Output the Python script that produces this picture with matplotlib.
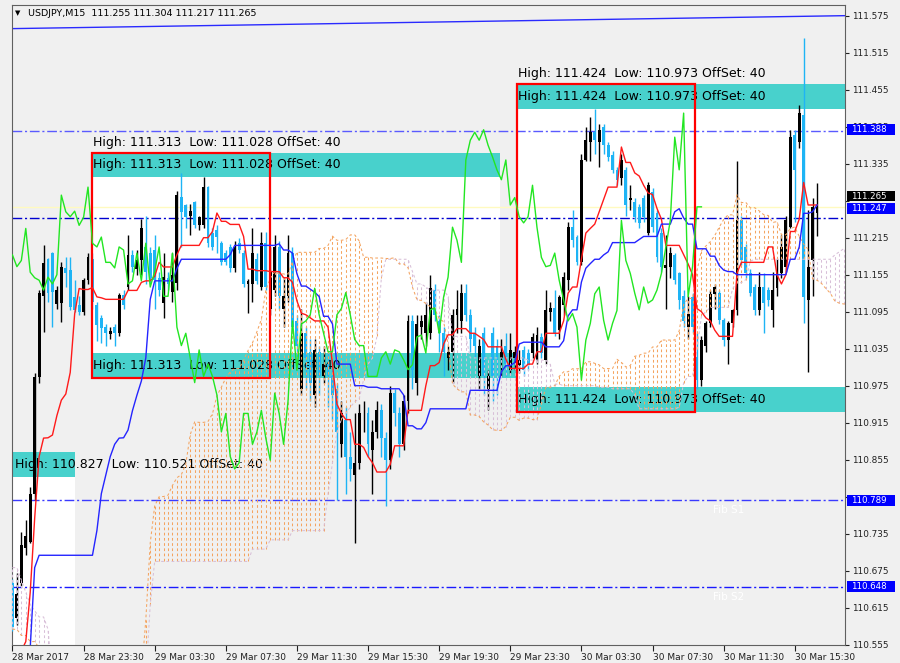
import matplotlib
matplotlib.use("Agg")
import matplotlib.pyplot as plt
from matplotlib.patches import Rectangle
import numpy as np

plt.rcParams['font.family'] = ['DejaVu Sans']

# ---- USDJPY M15 bars (bar 0 = 28 Mar 19:30) ----
opens = [
    110.655, 110.599, 110.655, 110.712, 110.722, 110.800, 110.989, 111.120, 111.180, 111.190,
    111.108, 111.109, 111.166, 111.163, 111.119, 111.106, 111.094, 111.146, 111.180, 111.106,
    111.085, 111.070, 111.058, 111.070, 111.060, 111.122, 111.135, 111.187, 111.165, 111.178,
    111.200, 111.190, 111.195, 111.150, 111.109, 111.150, 111.127, 111.141, 111.281, 111.268,
    111.250, 111.273, 111.235, 111.235, 111.297, 111.222, 111.228, 111.206, 111.190, 111.200,
    111.166, 111.206, 111.190, 111.140, 111.140, 111.180, 111.135, 111.206, 111.100, 111.130,
    111.200, 111.100, 111.120, 111.190, 111.080, 110.970, 111.060, 111.030, 110.960, 111.030,
    110.990, 111.010, 110.990, 110.970, 110.880, 110.920, 110.860, 110.830, 110.850, 110.930,
    110.930, 110.870, 110.900, 110.935, 110.890, 110.854, 110.963, 110.930, 110.880, 110.950,
    111.080, 110.980, 111.070, 111.060, 111.060, 111.130, 111.080, 111.060, 111.020, 111.030,
    111.090, 111.080, 111.126, 111.090, 111.060, 110.990, 111.060, 110.970, 111.060, 111.040,
    111.020, 111.040, 111.001, 111.020, 111.009, 111.033, 111.028, 111.028, 111.017, 111.054,
    111.017, 111.094, 111.101, 111.065, 111.106, 111.146, 111.232, 111.216, 111.175, 111.341,
    111.370, 111.386, 111.370, 111.394, 111.365, 111.349, 111.325, 111.312, 111.325, 111.276,
    111.273, 111.265, 111.280, 111.222, 111.289, 111.255, 111.222, 111.166, 111.168, 111.187,
    111.157, 111.120, 111.070, 111.118, 111.021, 110.984, 111.040, 111.076, 111.124, 111.125,
    111.081, 111.049, 111.076, 111.097, 111.243, 111.200, 111.157, 111.135, 111.098, 111.135,
    111.130, 111.098, 111.133, 111.157, 111.168, 111.232, 111.381, 111.370, 111.414, 111.114,
    111.179, 111.255]
highs = [
    110.662, 110.671, 110.737, 110.757, 110.810, 110.995, 111.130, 111.203, 111.182, 111.192,
    111.137, 111.175, 111.183, 111.183, 111.146, 111.120, 111.150, 111.190, 111.190, 111.110,
    111.090, 111.075, 111.070, 111.075, 111.125, 111.130, 111.219, 111.195, 111.195, 111.245,
    111.250, 111.200, 111.220, 111.160, 111.190, 111.160, 111.190, 111.290, 111.320, 111.270,
    111.270, 111.275, 111.250, 111.313, 111.299, 111.230, 111.235, 111.210, 111.195, 111.205,
    111.210, 111.215, 111.195, 111.148, 111.230, 111.190, 111.225, 111.225, 111.200, 111.220,
    111.210, 111.150, 111.220, 111.200, 111.090, 111.100, 111.070, 111.050, 111.050, 111.040,
    111.040, 111.030, 111.000, 110.980, 110.950, 110.940, 110.900, 110.930, 110.945, 110.950,
    110.940, 110.920, 110.950, 110.945, 110.900, 110.975, 110.970, 110.940, 110.960, 111.090,
    111.090, 111.090, 111.090, 111.110, 111.155, 111.140, 111.090, 111.070, 111.040, 111.100,
    111.130, 111.140, 111.140, 111.100, 111.070, 111.050, 111.070, 111.000, 111.070, 111.050,
    111.050, 111.060, 111.060, 111.040, 111.033, 111.040, 111.035, 111.060, 111.070, 111.060,
    111.130, 111.110, 111.130, 111.122, 111.160, 111.240, 111.260, 111.220, 111.350, 111.395,
    111.410, 111.424, 111.400, 111.400, 111.370, 111.355, 111.330, 111.350, 111.330, 111.300,
    111.280, 111.270, 111.285, 111.305, 111.295, 111.260, 111.230, 111.220, 111.200, 111.190,
    111.160, 111.130, 111.120, 111.125, 111.060, 111.055, 111.080, 111.130, 111.140, 111.130,
    111.085, 111.080, 111.100, 111.340, 111.250, 111.205, 111.165, 111.140, 111.160, 111.157,
    111.135, 111.160, 111.180, 111.220, 111.250, 111.390, 111.390, 111.430, 111.539, 111.260,
    111.280, 111.304]
lows = [
    110.578, 110.587, 110.650, 110.700, 110.720, 110.790, 110.980, 111.062, 111.110, 111.070,
    111.100, 111.078, 111.135, 111.097, 111.095, 111.090, 111.090, 111.140, 111.100, 111.048,
    111.045, 111.040, 111.050, 111.040, 111.055, 111.100, 111.130, 111.160, 111.155, 111.155,
    111.140, 111.140, 111.100, 111.120, 111.085, 111.130, 111.110, 111.130, 111.200, 111.230,
    111.220, 111.230, 111.228, 111.230, 111.200, 111.195, 111.190, 111.170, 111.170, 111.160,
    111.160, 111.190, 111.135, 111.093, 111.110, 111.140, 111.130, 111.130, 111.090, 111.120,
    111.100, 111.070, 111.110, 111.060, 111.000, 110.960, 110.970, 110.950, 110.940, 110.960,
    110.980, 110.940, 110.920, 110.790, 110.860, 110.800, 110.820, 110.720, 110.840, 110.900,
    110.860, 110.800, 110.890, 110.860, 110.780, 110.840, 110.910, 110.860, 110.870, 110.930,
    110.970, 110.960, 111.050, 111.040, 111.050, 111.080, 111.030, 110.990, 111.000, 110.980,
    111.060, 111.060, 111.080, 111.030, 111.020, 110.970, 110.960, 110.936, 110.950, 110.960,
    110.990, 110.990, 110.995, 111.000, 110.996, 110.990, 111.000, 111.020, 111.010, 111.020,
    111.010, 111.080, 111.055, 111.050, 111.090, 111.130, 111.200, 111.170, 111.170, 111.340,
    111.340, 111.350, 111.330, 111.350, 111.340, 111.320, 111.300, 111.300, 111.250, 111.260,
    111.240, 111.230, 111.240, 111.220, 111.225, 111.175, 111.160, 111.100, 111.150, 111.140,
    111.100, 111.070, 111.050, 111.060, 110.970, 110.975, 111.030, 111.070, 111.100, 111.075,
    111.040, 111.010, 111.070, 111.090, 111.170, 111.150, 111.120, 111.090, 111.090, 111.060,
    111.105, 111.070, 111.120, 111.150, 111.160, 111.230, 111.240, 111.360, 111.077, 110.997,
    111.120, 111.217]
closes = [
    110.583, 110.638, 110.716, 110.731, 110.800, 110.989, 111.125, 111.174, 111.125, 111.127,
    111.130, 111.168, 111.158, 111.103, 111.098, 111.094, 111.146, 111.183, 111.110, 111.074,
    111.069, 111.060, 111.064, 111.060, 111.122, 111.106, 111.187, 111.168, 111.178, 111.230,
    111.159, 111.150, 111.146, 111.130, 111.151, 111.140, 111.155, 111.284, 111.257, 111.249,
    111.258, 111.235, 111.248, 111.297, 111.206, 111.200, 111.216, 111.175, 111.175, 111.166,
    111.200, 111.195, 111.140, 111.145, 111.190, 111.145, 111.206, 111.135, 111.160, 111.200,
    111.120, 111.120, 111.190, 111.070, 111.040, 111.060, 111.020, 110.980, 111.033, 110.990,
    111.010, 110.990, 110.960, 110.900, 110.930, 110.860, 110.840, 110.850, 110.930, 110.930,
    110.880, 110.900, 110.935, 110.890, 110.854, 110.963, 110.930, 110.880, 110.950, 111.080,
    111.000, 111.075, 111.080, 111.090, 111.133, 111.090, 111.060, 111.030, 111.030, 111.090,
    111.100, 111.126, 111.090, 111.050, 111.040, 111.040, 110.990, 110.990, 110.990, 111.020,
    111.030, 111.010, 111.033, 111.030, 111.017, 111.001, 111.009, 111.054, 111.057, 111.028,
    111.098, 111.101, 111.060, 111.119, 111.151, 111.232, 111.211, 111.175, 111.341, 111.373,
    111.386, 111.373, 111.390, 111.365, 111.346, 111.325, 111.309, 111.341, 111.268, 111.280,
    111.249, 111.239, 111.249, 111.300, 111.232, 111.183, 111.168, 111.170, 111.190, 111.146,
    111.114, 111.080, 111.092, 111.070, 110.984, 111.049, 111.076, 111.124, 111.135, 111.081,
    111.049, 111.076, 111.097, 111.243, 111.178, 111.157, 111.125, 111.098, 111.135, 111.109,
    111.114, 111.130, 111.157, 111.200, 111.243, 111.378, 111.325, 111.417, 111.119, 111.168,
    111.265, 111.265]

# Ichimoku values at the left edge, where the look-back window runs off the chart
tenkan_head = [110.50, 110.52, 110.545, 110.56, 110.64, 110.76, 110.86, 110.89]
kijun_head = [110.45] * 4 + [110.55, 110.68] + [110.70] * 13 + [110.74, 110.80, 110.83, 110.86, 110.88, 110.89]
span_a_head = [110.58, 110.58, 110.57, 110.57, 110.56, 110.56, 110.55, 110.55, 110.54] + [110.50] * 17
span_b_head = ([110.68, 110.68, 110.66, 110.64, 110.62, 110.61, 110.60, 110.60, 110.58] + [110.50] * 22
               + [110.62] + [110.69] * 22 + [110.71] * 4 + [110.725] * 5 + [110.74] * 8
               + [110.80, 110.85, 110.90, 110.92, 110.93, 110.94])

# price levels / objects
trend_x = [-0.1, 187.3]
trend_y = [111.554, 111.575]
hlines = [111.388, 111.247, 110.789, 110.648]
hline_colors = ['#5a5aff', '#0000d0', '#3a3aff', '#1a1aff']
bid = closes[-1]
fib_labels = [('Fib S1', 110.789), ('Fib S2', 110.648)]
# zones: high, low, offset, start bar, end bar (top band / body), end bar (bottom band), box bars
zones = [
    (111.313, 111.028, 0.040, 17.9, 109.7, 113.5, 40),
    (111.424, 110.973, 0.040, 113.5, 195.0, 195.0, 40),
    (110.827, 110.521, 0.040, -5.0, 14.06, 14.06, 0),
]
tick_bars = [0, 16, 32, 48, 64, 80, 96, 112, 128, 144, 160, 176]
tick_labels = ['28 Mar 2017', '28 Mar 23:30', '29 Mar 03:30', '29 Mar 07:30', '29 Mar 11:30',
               '29 Mar 15:30', '29 Mar 19:30', '29 Mar 23:30', '30 Mar 03:30', '30 Mar 07:30',
               '30 Mar 11:30', '30 Mar 15:30']
# scale labels covered by the price boxes
hidden_ticks = [111.275, 110.795]

O = np.array(opens); H = np.array(highs); L = np.array(lows); C = np.array(closes)
n = len(C)
x = np.arange(n)

# ---- ichimoku ----
tenkan = np.array([tenkan_head[i] if i < 8 else (H[i-8:i+1].max() + L[i-8:i+1].min()) / 2 for i in range(n)])
kijun = np.array([kijun_head[i] if i < 25 else (H[i-25:i+1].max() + L[i-25:i+1].min()) / 2 for i in range(n)])
m = n + 26
js = np.arange(m)
span_a = np.array([span_a_head[j] if j < 26 else (tenkan[j-26] + kijun[j-26]) / 2 for j in range(m)])
span_b = np.array([span_b_head[j] if j < 77 else (H[j-77:j-25].max() + L[j-77:j-25].min()) / 2 for j in range(m)])

BG = '#f0f0f0'
fig = plt.figure(figsize=(9, 6.63), dpi=100, facecolor=BG)
ax = fig.add_axes([12/900, 18/663, 833/900, 640/663], facecolor=BG)
ax.set_xlim(-0.1, 187.3)
ax.set_ylim(110.5545, 111.5923)

# zones
TURQ = '#48d1cc'
for hi, lo, off, x0, x1, x2, box in zones:
    ax.add_patch(Rectangle((x0, lo), x1 - x0, hi - lo, fc='white', ec='none', zorder=0.5))
    ax.add_patch(Rectangle((x0, hi), x1 - x0, off, fc=TURQ, ec='none', zorder=0.6))
    ax.add_patch(Rectangle((x0, lo - off), x2 - x0, off, fc=TURQ, ec='none', zorder=0.6))
    lab = f'High: {hi:.3f}  Low: {lo:.3f} OffSet: {off*1000:.0f}'
    tx = max(x0, 0.3) + 0.2
    if box:
        ax.add_patch(Rectangle((x0, lo - off), box, hi - lo + 2 * off, fill=False, ec='red', lw=1.6, zorder=4.5))
        ax.text(tx, hi + off + 0.017, lab, fontsize=9, va='center', zorder=1)
        ax.text(tx, lo - off / 2, lab, fontsize=9, va='center', zorder=1)
    ax.text(tx, hi + off / 2, lab, fontsize=9, va='center', zorder=1)

# horizontal lines
ax.plot(trend_x, trend_y, color='#2a2aff', lw=1.0, zorder=2)
ax.axhline(bid, color='#fffac0', lw=1.0, zorder=1.5)
for lv, c in zip(hlines, hline_colors):
    ax.axhline(lv, color=c, lw=1.0, ls=(0, (7, 2, 1.5, 2)), zorder=2)
for t, lv in fib_labels:
    ax.text(157.5, lv - 0.016, t, color='white', fontsize=7.5, va='center', zorder=2)

# candles
up = C >= O
wick_c = np.where(up, 'black', '#1eb4f5')
ax.vlines(x, L, H, colors=wick_c, lw=1.0, zorder=3)
ax.bar(x, np.maximum(np.abs(C - O), 0.0012), bottom=np.minimum(O, C), width=0.65,
       color=wick_c, linewidth=0, zorder=3.1)

# kumo (dotted)
kumo_c = np.where(span_a >= span_b, '#f4a460', '#d8bfd8')
dots = (0, (2.6, 2.4))
ax.vlines(js, np.minimum(span_a, span_b), np.maximum(span_a, span_b), colors=kumo_c,
          lw=0.75, linestyles=dots, zorder=4)
ax.plot(js, span_a, color='#f4a460', lw=0.75, ls=dots, zorder=4)
ax.plot(js, span_b, color='#d8bfd8', lw=0.75, ls=dots, zorder=4)

# tenkan, kijun, chikou
ax.plot(x, tenkan, color='#ff1a1a', lw=1.0, zorder=5)
ax.plot(x, kijun, color='#2424ff', lw=1.0, zorder=5)
ax.plot(x[:-26], C[26:], color='#22e622', lw=1.0, zorder=5)

# axes styling
for s in ax.spines.values():
    s.set_color('#606060')
    s.set_linewidth(0.8)
ax.yaxis.tick_right()
yt = np.round(np.arange(110.555, 111.58, 0.06), 3)
ax.set_yticks(yt)
ax.set_yticklabels(['' if v in hidden_ticks else f'{v:.3f}' for v in yt])
ax.tick_params(axis='y', direction='out', length=3, width=0.8, labelsize=6.4, pad=2, colors='#202020')
ax.set_xticks(tick_bars)
ax.set_xticklabels(tick_labels, ha='left')
ax.tick_params(axis='x', direction='out', length=4, width=0.8, labelsize=6.5, pad=2, colors='#202020')

# price boxes on the scale
ytr = ax.get_yaxis_transform()
price_boxes = [('111.388', 111.391, '#0000ff'), ('111.265', 111.2825, 'black'),
               ('111.247', 111.2625, '#0000ff'), ('110.789', 110.789, '#0000ff'),
               ('110.648', 110.649, '#0000ff')]
for t, yv, c in price_boxes:
    ax.add_patch(Rectangle((1.0025, yv - 0.0087), 0.058, 0.0174, transform=ytr, fc=c, ec='none',
                           clip_on=False, zorder=10))
    ax.text(1.0075, yv, t, transform=ytr, color='white', fontsize=6.2, va='center', zorder=11,
            clip_on=False)

# chart title
fig.text(15/900, 1 - 13/663, '\u25bc', fontsize=5, va='center')
fig.text(28/900, 1 - 13/663, f'USDJPY,M15  {opens[-1]:.3f} {highs[-1]:.3f} {lows[-1]:.3f} {closes[-1]:.3f}',
         fontsize=6.8, va='center')

fig.savefig('out.png', dpi=100, facecolor=BG)
